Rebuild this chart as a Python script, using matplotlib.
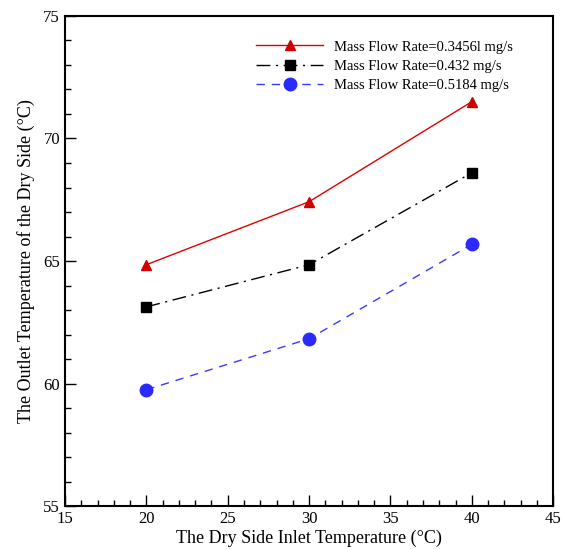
import matplotlib
matplotlib.use("Agg")
import matplotlib.pyplot as plt
from matplotlib.ticker import MultipleLocator

plt.rcParams['font.family'] = ['Liberation Serif', 'DejaVu Serif']

# inlet temperature (C)
inlet_temp = [20, 30, 40]
# outlet temperature of dry side for each mass flow rate
outlet_0345 = [64.85, 67.42, 71.5]
outlet_0432 = [63.13, 64.85, 68.6]
outlet_0518 = [59.75, 61.83, 65.68]
labels = ['Mass Flow Rate=0.3456l mg/s', 'Mass Flow Rate=0.432 mg/s', 'Mass Flow Rate=0.5184 mg/s']

fig = plt.figure(figsize=(5.65, 5.49), dpi=100)
ax = fig.add_axes([0.115, 0.078, 0.864, 0.893])

ax.plot(inlet_temp, outlet_0345, color='#e00000', lw=1.0, marker='^', ms=7,
        mfc='#d00000', mec='#d00000', label=labels[0])
ax.plot(inlet_temp, outlet_0432, color='black', lw=1.0, marker='s', ms=6.5,
        linestyle=(0, (10, 4, 1.5, 4)), label=labels[1])
ax.plot(inlet_temp, outlet_0518, color='#3a3aff', lw=1.0, marker='o', ms=9,
        mfc='#2a2aff', mec='#2a2aff', linestyle=(0, (6, 5)), label=labels[2])

ax.set_xlim(15, 45)
ax.set_ylim(55, 75)
ax.xaxis.set_major_locator(MultipleLocator(5))
ax.xaxis.set_minor_locator(MultipleLocator(1))
ax.yaxis.set_major_locator(MultipleLocator(5))
ax.yaxis.set_minor_locator(MultipleLocator(1))
ax.tick_params(which='both', direction='in', top=False, right=False, labelsize=12)
ax.tick_params(which='major', length=8, width=1)
ax.tick_params(which='minor', length=4, width=1)
for s in ax.spines.values():
    s.set_linewidth(1.5)

ax.set_xlabel('The Dry Side Inlet Temperature (°C)', fontsize=13, labelpad=2)
ax.set_ylabel('The Outlet Temperature of the Dry Side (°C)', fontsize=13, labelpad=6)

ax.legend(loc='upper left', bbox_to_anchor=(0.38, 0.962), frameon=False, fontsize=10.5,
          handlelength=4.6, handletextpad=0.7, labelspacing=0.4, borderaxespad=0)

fig.savefig('out.png', dpi=100)
